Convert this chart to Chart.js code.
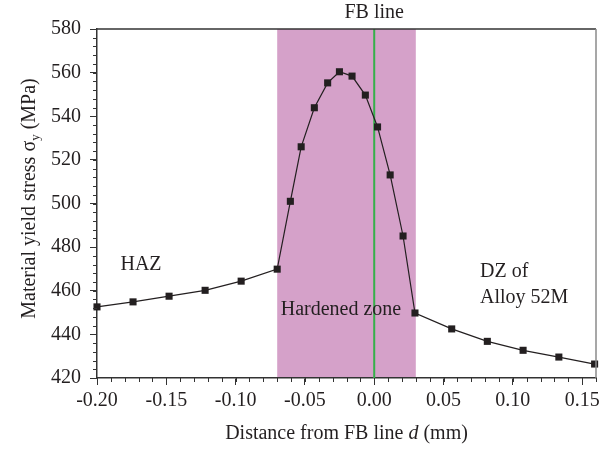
<!DOCTYPE html>
<html lang="en">
<head>
<meta charset="UTF-8">
<title>Material yield stress vs distance from FB line</title>
<style>
  html, body { margin: 0; padding: 0; background: #fff; }
  #wrap { width: 601px; height: 449px; }
</style>
<script src="https://cdn.jsdelivr.net/npm/chart.js"></script>
</head>
<body>
<div id="wrap"><canvas id="yieldChart" width="601" height="449"></canvas></div>
<script>
// distance from fusion boundary (mm) and yield stress (MPa)
const distance = [-0.200, -0.174, -0.148, -0.122, -0.096, -0.070, -0.0605, -0.0527, -0.0432, -0.0336,
                  -0.0251, -0.016, -0.0064, 0.0024, 0.0115, 0.0208, 0.0294, 0.0559, 0.0816, 0.1074, 0.1332, 0.159];
const stress   = [452.6, 454.9, 457.5, 460.2, 464.4, 469.9, 501.0, 526.0, 543.9, 555.3,
                  560.4, 558.4, 549.7, 535.1, 513.1, 485.1, 449.8, 442.5, 436.8, 432.7, 429.6, 426.4];

const xTicks = [-0.20, -0.15, -0.10, -0.05, 0.00, 0.05, 0.10, 0.15];
const yTicks = [420, 440, 460, 480, 500, 520, 540, 560, 580];

// hardened zone limits and FB line position
const hardenedZone = [-0.07, 0.03];
const fbLine = 0.0;

const FONT = '"Liberation Serif", "Times New Roman", serif';
const FS = 20;
const INK = '#231f20';

const extras = {
  id: 'extras',
  beforeDraw(chart) {
    const { ctx, chartArea: a, scales: { x } } = chart;
    ctx.save();
    const x1 = x.getPixelForValue(hardenedZone[0]);
    const x2 = x.getPixelForValue(hardenedZone[1]);
    ctx.fillStyle = '#d5a1c9';
    ctx.fillRect(x1, a.top, x2 - x1, a.bottom - a.top);
    ctx.restore();
  },
  beforeDatasetsDraw(chart) {
    const { ctx, chartArea: a, scales: { x } } = chart;
    ctx.save();
    const gx = x.getPixelForValue(fbLine);
    ctx.strokeStyle = '#35b04a';
    ctx.lineWidth = 2;
    ctx.beginPath();
    ctx.moveTo(gx, a.top);
    ctx.lineTo(gx, a.bottom);
    ctx.stroke();
    ctx.restore();
  },
  afterDraw(chart) {
    const { ctx, chartArea: a, scales: { x, y } } = chart;
    ctx.save();
    // frame top + right
    ctx.lineWidth = 1.5;
    ctx.strokeStyle = '#333';
    ctx.beginPath();
    ctx.moveTo(a.left, a.top);
    ctx.lineTo(a.right, a.top);
    ctx.stroke();
    ctx.strokeStyle = '#8a8a8a';
    ctx.beginPath();
    ctx.moveTo(a.right, a.top);
    ctx.lineTo(a.right, a.bottom);
    ctx.stroke();

    // minor ticks
    ctx.strokeStyle = '#333';
    ctx.lineWidth = 1;
    ctx.beginPath();
    for (let i = 0; i <= 36; i++) {
      const px = Math.round(x.getPixelForValue(-0.20 + i * 0.01)) + 0.5;
      ctx.moveTo(px, a.bottom);
      ctx.lineTo(px, a.bottom + 4);
    }
    for (let v = 420; v <= 580; v += 4) {
      const py = Math.round(y.getPixelForValue(v)) + 0.5;
      ctx.moveTo(a.left, py);
      ctx.lineTo(a.left - 4, py);
    }
    ctx.stroke();

    // annotations
    ctx.fillStyle = INK;
    ctx.font = FS + 'px ' + FONT;
    ctx.textBaseline = 'middle';
    ctx.textAlign = 'center';
    ctx.fillText('FB line', x.getPixelForValue(fbLine), 13);
    ctx.fillText('HAZ', 141, 265);
    ctx.fillText('Hardened zone', 341, 310);
    ctx.textAlign = 'left';
    ctx.fillText('DZ of', 480, 272);
    ctx.fillText('Alloy 52M', 480, 298);

    // x title with italic d
    ctx.textBaseline = 'alphabetic';
    const p1 = 'Distance from FB line ', p2 = 'd', p3 = ' (mm)';
    ctx.font = FS + 'px ' + FONT;
    const w1 = ctx.measureText(p1).width, w3 = ctx.measureText(p3).width;
    ctx.font = 'italic ' + FS + 'px ' + FONT;
    const w2 = ctx.measureText(p2).width;
    let sx = (a.left + a.right) / 2 - (w1 + w2 + w3) / 2;
    ctx.font = FS + 'px ' + FONT;
    ctx.fillText(p1, sx, 439);
    ctx.font = 'italic ' + FS + 'px ' + FONT;
    ctx.fillText(p2, sx + w1, 439);
    ctx.font = FS + 'px ' + FONT;
    ctx.fillText(p3, sx + w1 + w2, 439);

    // y title with subscript y
    ctx.translate(35, (a.top + a.bottom) / 2 - 5);
    ctx.rotate(-Math.PI / 2);
    const q1 = 'Material yield stress σ', q2 = 'y', q3 = ' (MPa)';
    ctx.font = FS + 'px ' + FONT;
    const v1 = ctx.measureText(q1).width, v3 = ctx.measureText(q3).width;
    ctx.font = '13px ' + FONT;
    const v2 = ctx.measureText(q2).width;
    let sy = -(v1 + v2 + v3) / 2;
    ctx.font = FS + 'px ' + FONT;
    ctx.fillText(q1, sy, 0);
    ctx.font = '13px ' + FONT;
    ctx.fillText(q2, sy + v1, 4);
    ctx.font = FS + 'px ' + FONT;
    ctx.fillText(q3, sy + v1 + v2, 0);
    ctx.restore();
  }
};

new Chart(document.getElementById('yieldChart'), {
  type: 'scatter',
  data: {
    datasets: [{
      data: distance.map((d, i) => ({ x: d, y: stress[i] })),
      showLine: true,
      borderColor: INK,
      borderWidth: 1.2,
      pointStyle: 'rect',
      pointRadius: 5,
      pointBackgroundColor: INK,
      pointBorderWidth: 0,
      clip: false
    }]
  },
  options: {
    responsive: false,
    animation: false,
    events: [],
    layout: { padding: { top: 29, right: 0, left: 0, bottom: 0 } },
    plugins: { legend: { display: false }, tooltip: { enabled: false } },
    scales: {
      x: {
        type: 'linear',
        min: -0.20,
        max: 0.16,
        afterBuildTicks(scale) { scale.ticks = xTicks.map(v => ({ value: v })); },
        afterFit(scale) { scale.height = 71; scale.paddingLeft = 0; scale.paddingRight = 0; },
        ticks: {
          color: INK,
          padding: 4,
          font: { family: FONT, size: FS },
          callback: v => v.toFixed(2)
        },
        grid: { drawOnChartArea: false, drawTicks: true, tickLength: 7, color: '#333' },
        border: { color: '#333', width: 1.5 }
      },
      y: {
        min: 420,
        max: 580,
        afterBuildTicks(scale) { scale.ticks = yTicks.map(v => ({ value: v })); },
        afterFit(scale) { scale.width = 97; scale.paddingTop = 0; scale.paddingBottom = 0; },
        ticks: {
          color: INK,
          padding: 9,
          font: { family: FONT, size: FS }
        },
        grid: { drawOnChartArea: false, drawTicks: true, tickLength: 7, color: '#333' },
        border: { color: '#333', width: 1.5 }
      }
    }
  },
  plugins: [extras]
});
</script>
</body>
</html>
